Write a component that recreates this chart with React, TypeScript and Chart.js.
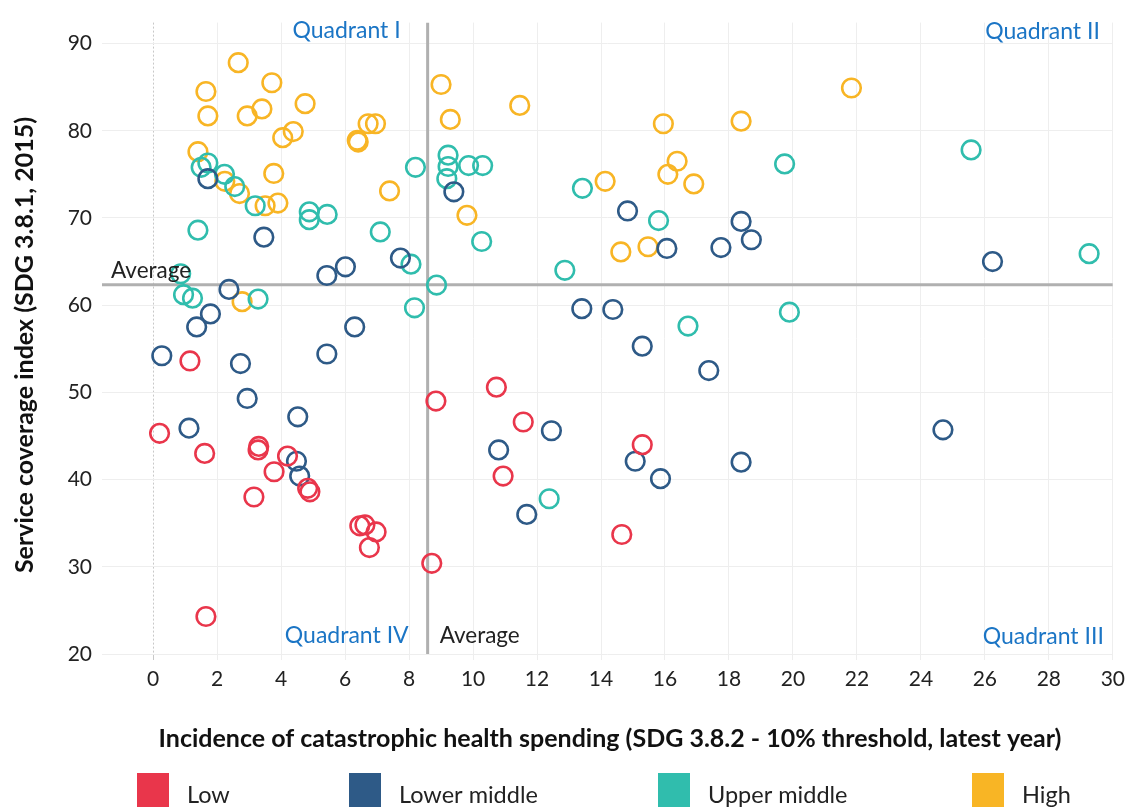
import React, { useEffect, useRef } from 'react';
import { Chart, registerables } from 'chart.js';

Chart.register(...registerables);

// ---------- data ----------
const SERIES_NAMES = ['Low', 'Lower middle', 'Upper middle', 'High'];
const SERIES_COLORS = ['#E9364B', '#2E5A87', '#30BDAD', '#F8B525'];

const LOW_POINTS: [number, number][] = [
  [0.2, 45.3], [1.15, 53.6], [1.61, 43.0], [1.65, 24.3], [3.15, 38.0], [3.28, 43.4],
  [3.3, 43.8], [3.78, 40.9], [4.2, 42.7], [4.83, 39.0], [4.9, 38.6], [6.46, 34.7],
  [6.62, 34.8], [6.76, 32.2], [6.97, 34.0], [8.71, 30.4], [8.84, 49.0], [10.73, 50.6],
  [10.94, 40.4], [11.57, 46.6], [14.65, 33.7], [15.29, 44.0],
];

const LOWER_MIDDLE_POINTS: [number, number][] = [
  [0.27, 54.2], [1.12, 45.9], [1.36, 57.5], [1.71, 74.5], [1.79, 59.0], [2.37, 61.8],
  [2.73, 53.3], [2.94, 49.3], [3.46, 67.8], [4.48, 42.1], [4.52, 47.2], [4.58, 40.4],
  [5.43, 63.4], [5.43, 54.4], [6.01, 64.4], [6.3, 57.5], [7.73, 65.4], [9.4, 73.0],
  [10.8, 43.4], [11.68, 36.0], [12.45, 45.6], [13.4, 59.6], [14.37, 59.5], [14.83, 70.8],
  [15.07, 42.1], [15.29, 55.3], [15.86, 40.1], [16.06, 66.5], [17.37, 52.5], [17.75, 66.6],
  [18.38, 69.6], [18.38, 42.0], [18.7, 67.5], [24.69, 45.7], [26.24, 65.0],
];

const UPPER_MIDDLE_POINTS: [number, number][] = [
  [0.86, 63.6], [0.95, 61.2], [1.23, 60.8], [1.4, 68.6], [1.5, 75.8], [1.71, 76.3],
  [2.23, 75.0], [2.55, 73.6], [3.19, 71.4], [3.28, 60.7], [4.88, 70.7], [4.88, 69.8],
  [5.44, 70.4], [7.1, 68.4], [8.06, 64.7], [8.17, 59.7], [8.2, 75.8], [8.86, 62.3],
  [9.18, 74.5], [9.22, 77.2], [9.22, 75.9], [9.86, 76.0], [10.3, 76.0], [10.27, 67.3],
  [12.38, 37.8], [12.87, 64.0], [13.42, 73.4], [15.8, 69.7], [16.72, 57.6], [19.74, 76.2],
  [19.89, 59.2], [25.57, 77.8], [29.26, 65.9],
];

const HIGH_POINTS: [number, number][] = [
  [1.4, 77.6], [1.65, 84.5], [1.71, 81.7], [2.24, 74.2], [2.66, 87.8], [2.7, 72.8],
  [2.78, 60.4], [2.94, 81.7], [3.4, 82.5], [3.5, 71.4], [3.71, 85.5], [3.77, 75.1],
  [3.9, 71.7], [4.05, 79.2], [4.38, 79.9], [4.75, 83.1], [6.38, 78.9], [6.41, 78.7],
  [6.72, 80.8], [6.95, 80.8], [7.39, 73.1], [9.0, 85.3], [9.29, 81.3], [9.81, 70.3],
  [11.46, 82.9], [14.13, 74.2], [14.62, 66.1], [15.47, 66.7], [15.95, 80.8], [16.09, 75.0],
  [16.38, 76.5], [16.9, 73.9], [18.38, 81.1], [21.83, 84.9],
];

const AVG_X = 8.58;
const AVG_Y = 62.34;

const X_TICKS = [0, 2, 4, 6, 8, 10, 12, 14, 16, 18, 20, 22, 24, 26, 28, 30];
const Y_TICKS = [20, 30, 40, 50, 60, 70, 80, 90];
const X_MIN = -1.6;
const X_MAX = 30;
const Y_MIN = 20;
const Y_MAX = 92.4;

const X_TITLE = 'Incidence of catastrophic health spending (SDG 3.8.2 - 10% threshold, latest year)';
const Y_TITLE = 'Service coverage index (SDG 3.8.1, 2015)';
const AVG_LABEL = 'Average';
const QUADRANT_LABELS = ['Quadrant I', 'Quadrant II', 'Quadrant III', 'Quadrant IV'];

// ---------- styling ----------
const FONT = "Lato, 'Open Sans', sans-serif";
const QUAD_COLOR = '#1B75C5';
const TEXT_COLOR = '#222222';
const LEGEND_SWATCH_X = [137, 349, 658, 972];

const toPts = (arr: [number, number][]) => arr.map(([x, y]) => ({ x, y }));

export default function App() {
  const ref = useRef<HTMLCanvasElement | null>(null);

  useEffect(() => {
    document.body.style.margin = '0';
    const canvas = ref.current;
    if (!canvas) return;

    const annotations = {
      id: 'annotations',
      beforeDraw(chart: any) {
        const c = chart.ctx;
        c.save();
        c.fillStyle = '#ffffff';
        c.fillRect(0, 0, chart.width, chart.height);
        c.restore();
      },
      afterDraw(chart: any) {
        const c = chart.ctx;
        const xs = chart.scales.x;
        const ys = chart.scales.y;
        const area = chart.chartArea;
        const ax = xs.getPixelForValue(AVG_X);
        const ay = ys.getPixelForValue(AVG_Y);
        c.save();
        c.textBaseline = 'alphabetic';

        // quadrant labels
        c.font = `23px ${FONT}`;
        c.fillStyle = QUAD_COLOR;
        c.textAlign = 'right';
        c.fillText(QUADRANT_LABELS[0], ax - 27, area.top + 15);
        c.fillText(QUADRANT_LABELS[1], area.right - 13, area.top + 16);
        c.fillText(QUADRANT_LABELS[2], area.right - 9, area.bottom - 10);
        c.fillText(QUADRANT_LABELS[3], ax - 19, area.bottom - 11);

        // average labels
        c.font = `22.5px ${FONT}`;
        c.fillStyle = TEXT_COLOR;
        c.textAlign = 'left';
        c.fillText(AVG_LABEL, area.left + 9, ay - 7);
        c.fillText(AVG_LABEL, ax + 12, area.bottom - 11);

        // axis titles
        c.font = `bold 25px ${FONT}`;
        c.fillStyle = '#111111';
        c.textAlign = 'center';
        c.fillText(X_TITLE, 610, 747);
        c.save();
        c.translate(33, 345);
        c.rotate(-Math.PI / 2);
        c.fillText(Y_TITLE, 0, 0);
        c.restore();

        // legend
        c.font = `23.5px ${FONT}`;
        c.textAlign = 'left';
        SERIES_NAMES.forEach((name, i) => {
          const x = LEGEND_SWATCH_X[i];
          c.fillStyle = SERIES_COLORS[i];
          c.fillRect(x, 773, 32, 40);
          c.fillStyle = TEXT_COLOR;
          c.fillText(name, x + 50, 803);
        });
        c.restore();
      },
    };

    const seriesData = [LOW_POINTS, LOWER_MIDDLE_POINTS, UPPER_MIDDLE_POINTS, HIGH_POINTS];

    const chart = new Chart(canvas, {
      type: 'scatter',
      data: {
        datasets: [
          ...seriesData.map((pts, i) => ({
            label: SERIES_NAMES[i],
            data: toPts(pts),
            borderColor: SERIES_COLORS[i],
            backgroundColor: 'rgba(0,0,0,0)',
            pointRadius: 9.3,
            pointHoverRadius: 9.3,
            pointBorderWidth: 2.6,
            borderWidth: 2.6,
            order: 1,
          })),
          {
            label: 'avgX',
            data: [{ x: AVG_X, y: Y_MIN }, { x: AVG_X, y: Y_MAX }],
            showLine: true,
            borderColor: '#b0b0b0',
            borderWidth: 3,
            pointRadius: 0,
            order: 10,
          },
          {
            label: 'avgY',
            data: [{ x: X_MIN, y: AVG_Y }, { x: X_MAX, y: AVG_Y }],
            showLine: true,
            borderColor: '#b0b0b0',
            borderWidth: 3,
            pointRadius: 0,
            order: 10,
          },
        ] as any,
      },
      options: {
        responsive: false,
        devicePixelRatio: 1,
        animation: false,
        layout: { padding: { top: 19, right: 17.7, left: 0, bottom: 0 } },
        plugins: {
          legend: { display: false },
          tooltip: { enabled: false },
          title: { display: false },
        },
        scales: {
          x: {
            type: 'linear',
            min: X_MIN,
            max: X_MAX,
            afterBuildTicks: (s: any) => {
              s.ticks = X_TICKS.map((v) => ({ value: v }));
            },
            afterFit: (s: any) => {
              s.height = 153;
            },
            grid: {
              color: (ctx: any) => (ctx.tick && ctx.tick.value === 0 ? '#c8c8c8' : '#eeeeee'),
              lineWidth: 1,
              drawTicks: true,
              tickLength: 6,
            },
            border: {
              display: false,
              dash: (ctx: any) => (ctx.tick && ctx.tick.value === 0 ? [2, 2] : []),
            },
            ticks: {
              font: { family: FONT, size: 21 },
              color: TEXT_COLOR,
              padding: 7,
              maxRotation: 0,
              autoSkip: false,
            },
          },
          y: {
            type: 'linear',
            min: Y_MIN,
            max: Y_MAX,
            afterBuildTicks: (s: any) => {
              s.ticks = Y_TICKS.map((v) => ({ value: v }));
            },
            afterFit: (s: any) => {
              s.width = 102;
            },
            grid: { color: '#eeeeee', lineWidth: 1, drawTicks: false },
            border: { display: false },
            ticks: {
              font: { family: FONT, size: 21 },
              color: TEXT_COLOR,
              padding: 10,
              autoSkip: false,
            },
          },
        },
      } as any,
      plugins: [annotations],
    });

    return () => chart.destroy();
  }, []);

  return (
    <div style={{ width: 1132, height: 807 }}>
      <canvas ref={ref} width={1132} height={807} style={{ display: 'block' }} />
    </div>
  );
}
